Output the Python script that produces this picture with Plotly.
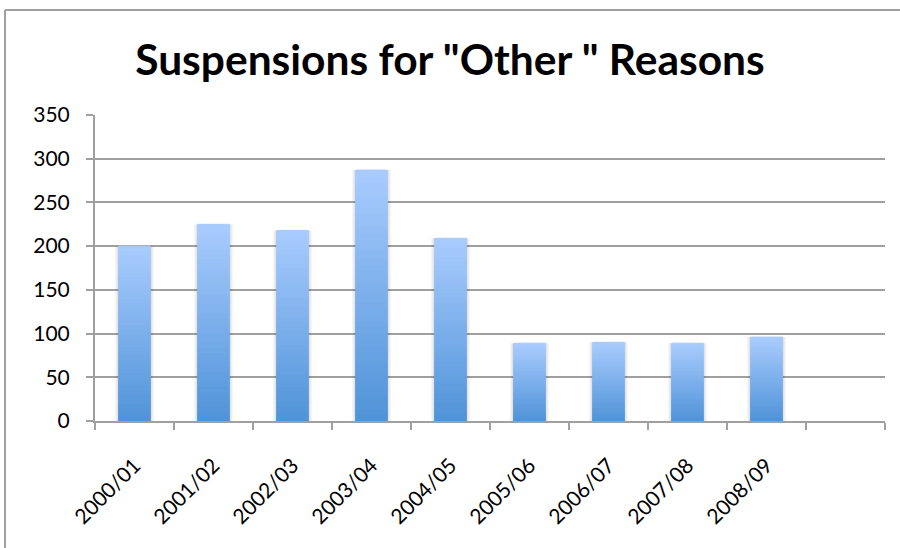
import plotly.graph_objects as go

# Suspensions for "Other" reasons by school year
years = ["2000/01", "2001/02", "2002/03", "2003/04", "2004/05",
         "2005/06", "2006/07", "2007/08", "2008/09", " "]
suspensions = [200, 225, 218, 287, 209, 89, 90, 89, 96, None]
y_ticks = [0, 50, 100, 150, 200, 250, 300, 350]

title_text = 'Suspensions for "Other " Reasons'

BOTTOM_RGB = (79, 147, 216)
TOP_RGB = (169, 204, 254)
N_SLICES = 40
BAR_WIDTH = 0.40

fig = go.Figure()

# soft shadow behind each column
for w, a in [(0.50, 0.035), (0.46, 0.05), (0.43, 0.06)]:
    fig.add_trace(go.Bar(
        x=years, y=suspensions, base=0, width=w,
        marker=dict(color=f"rgba(0,0,0,{a})", line=dict(width=0)),
        hoverinfo="skip", showlegend=False,
    ))

# each column filled with a vertical gradient, built from horizontal slices
for k in range(N_SLICES):
    t = (k + 0.5) / N_SLICES
    r, g, b = (round(lo + (hi - lo) * t) for lo, hi in zip(BOTTOM_RGB, TOP_RGB))
    col = f"rgb({r},{g},{b})"
    fig.add_trace(go.Bar(
        x=years,
        y=[None if v is None else v / N_SLICES for v in suspensions],
        base=[None if v is None else v * k / N_SLICES for v in suspensions],
        width=BAR_WIDTH,
        marker=dict(color=col, line=dict(width=1, color=col)),
        hoverinfo="skip", showlegend=False,
    ))

axis_grey = "#a0a0a0"

# chart-area frame: only the left and top edges fall inside the page
FRAME_L, FRAME_T = -0.1139, 1.343
frame = [
    dict(type="line", xref="paper", yref="paper",
         x0=FRAME_L, x1=FRAME_L, y0=-0.6, y1=FRAME_T,
         line=dict(color=axis_grey, width=2), layer="above"),
    dict(type="line", xref="paper", yref="paper",
         x0=FRAME_L, x1=1.3, y0=FRAME_T, y1=FRAME_T,
         line=dict(color=axis_grey, width=2), layer="above"),
]

fig.update_layout(
    width=900, height=548,
    margin=dict(l=95, r=15, t=115, b=127),
    paper_bgcolor="white", plot_bgcolor="white",
    barmode="overlay",
    font=dict(family="Lato", color="black"),
    title=dict(text=f"<b>{title_text}</b>", x=0.5, xanchor="center",
               y=0.89, yanchor="middle",
               font=dict(family="Lato", size=42.5, color="black")),
    xaxis=dict(
        type="category", range=[-0.5, 9.5],
        tickson="boundaries", ticks="outside", ticklen=7, tickwidth=2,
        tickcolor=axis_grey, showline=True, linecolor=axis_grey, linewidth=2,
        showgrid=False, tickangle=-45, tickfont=dict(size=21),
        ticklabelstandoff=22,
    ),
    yaxis=dict(
        range=[0, 350], tickvals=y_ticks, ticks="outside", ticklen=7,
        tickwidth=2, tickcolor=axis_grey, showline=True, linecolor=axis_grey,
        linewidth=2, showgrid=True, gridcolor=axis_grey, gridwidth=2,
        zeroline=False, tickfont=dict(size=21), ticklabelstandoff=12,
    ),
    shapes=frame,
)

fig.write_html("out.html")
